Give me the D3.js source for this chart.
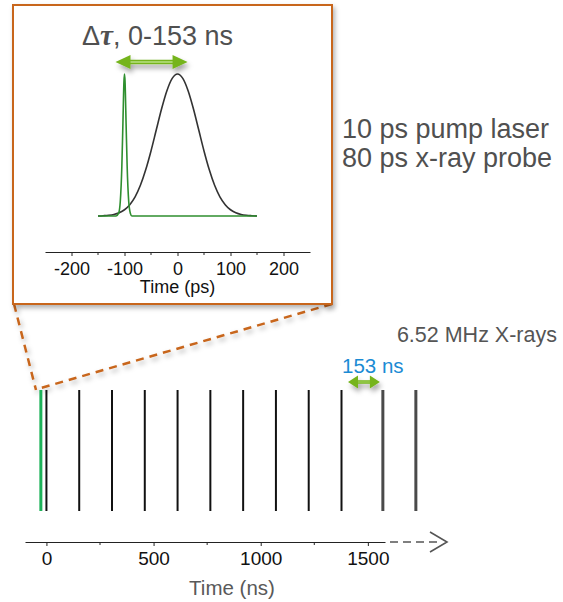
<!DOCTYPE html>
<html>
<head>
<meta charset="utf-8">
<script src="https://cdn.jsdelivr.net/npm/d3@7"></script>
<style>
  body { margin: 0; background: #fff; }
  svg { display: block; font-family: "Liberation Sans", Arial, sans-serif; }
</style>
</head>
<body>
<svg id="chart" width="563" height="602"></svg>
<script>
// ---------- DATA ----------
// Inset: pulse shapes (time in ps, relative intensity)
const probeTime = [-150,-140,-130,-120,-110,-100,-90,-80,-70,-60,-50,-40,-30,-20,-10,0,10,20,30,40,50,60,70,80,90,100,110,120,130,140,150];
const probeValue = [0.0,0.002,0.005,0.011,0.023,0.044,0.08,0.135,0.216,0.325,0.458,0.607,0.755,0.882,0.969,1.0,0.969,0.882,0.755,0.607,0.458,0.325,0.216,0.135,0.08,0.044,0.023,0.011,0.005,0.002,0.0];
const pumpTime = [-150,-116,-111,-108,-105,-103,-101,-100,-99,-97,-95,-92,-89,-86,150];
const pumpValue = [0,0,0.02,0.1,0.35,0.65,0.95,1.0,0.95,0.65,0.35,0.1,0.02,0,0];
const insetTicks = [-200,-100,0,100,200];
const insetMinorTicks = [-150,-50,50,150];
const insetArrowPs = [-117, 19];

// Main: pulse train (time in ns)
const xrayPulses = [0,153,306,459,612,765,918,1071,1224,1377];
const laterPulses = [1570,1724];
const pumpPulse = [-26];
const nsTicks = [0,500,1000,1500];
const nsMinorTicks = [250,750,1250];

const titleText = ["\u0394", "\u03C4", ", 0-153 ns"];
const sideText = ["10 ps pump laser", "80 ps x-ray probe"];
const repText = "6.52 MHz X-rays";
const periodText = "153 ns";

// ---------- DRAW ----------
const svg = d3.select("#chart");
const defs = svg.append("defs");
const sh = defs.append("filter").attr("id","shadow").attr("x","-20%").attr("y","-20%").attr("width","150%").attr("height","160%");
sh.append("feDropShadow").attr("dx",2).attr("dy",3).attr("stdDeviation",2.5).attr("flood-color","#000").attr("flood-opacity",0.3);
const sh2 = defs.append("filter").attr("id","shadow2").attr("x","-30%").attr("y","-60%").attr("width","160%").attr("height","260%");
sh2.append("feDropShadow").attr("dx",2).attr("dy",4).attr("stdDeviation",2.5).attr("flood-color","#000").attr("flood-opacity",0.35);

const orange = "#c8661c";
const arrowGreen = "#74b41c";

// Main scales
const x = d3.scaleLinear().domain([-100, 1580]).range([25, 385]);
const y = d3.scaleLinear().domain([0, 1]).range([511, 390]);

// Dashed zoom lines
svg.append("line").attr("x1",14).attr("y1",304).attr("x2",36).attr("y2",390)
  .attr("stroke",orange).attr("stroke-width",2.5).attr("stroke-dasharray","8,6").attr("filter","url(#shadow)");
svg.append("line").attr("x1",332).attr("y1",304).attr("x2",41).attr("y2",388)
  .attr("stroke",orange).attr("stroke-width",2.5).attr("stroke-dasharray","8,6").attr("filter","url(#shadow)");

// Inset box
svg.append("rect").attr("x",13).attr("y",5).attr("width",319).attr("height",299)
  .attr("fill","#fff").attr("stroke",orange).attr("stroke-width",2).attr("filter","url(#shadow)");

// Inset scales
const xi = d3.scaleLinear().domain([-250, 250]).range([45, 310]);
const yi = d3.scaleLinear().domain([0, 1]).range([216, 74]);

const insetAxis = svg.append("g").attr("transform","translate(0,252)")
  .call(d3.axisBottom(xi).tickValues(insetTicks).tickSizeInner(4).tickSizeOuter(0).tickPadding(6).tickFormat(d3.format("d")));
insetAxis.select(".domain").attr("stroke","#222").attr("stroke-width",1.2);
insetAxis.selectAll(".tick line").attr("stroke","#222");
insetAxis.selectAll(".tick text").attr("font-size",18).attr("fill","#111").attr("font-family","Liberation Sans, Arial, sans-serif").text(d => d < 0 ? "-" + Math.abs(d) : d);
svg.append("g").selectAll("line").data(insetMinorTicks).join("line")
  .attr("x1",d=>xi(d)).attr("x2",d=>xi(d)).attr("y1",252).attr("y2",255).attr("stroke","#222");
svg.append("text").attr("x",xi(0)).attr("y",293).attr("text-anchor","middle")
  .attr("font-size",18).attr("fill","#111").text("Time (ps)");

const lineI = d3.line().x(d=>xi(d[0])).y(d=>yi(d[1])).curve(d3.curveMonotoneX);
svg.append("path").datum(d3.zip(probeTime, probeValue)).attr("d",lineI)
  .attr("fill","none").attr("stroke","#333").attr("stroke-width",1.6);
svg.append("path").datum(d3.zip(pumpTime, pumpValue)).attr("d",lineI)
  .attr("fill","none").attr("stroke","#2f8f2f").attr("stroke-width",1.6);

// Double arrow helper
function dblArrow(x1, x2, yy, headL, headH, shaft) {
  const g = svg.append("g").attr("filter","url(#shadow2)");
  g.append("line").attr("x1",x1+headL-1).attr("x2",x2-headL+1).attr("y1",yy).attr("y2",yy)
    .attr("stroke",arrowGreen).attr("stroke-width",shaft);
  g.append("line").attr("x1",x1+headL-1).attr("x2",x2-headL+1).attr("y1",yy).attr("y2",yy)
    .attr("stroke","#a8d66a").attr("stroke-width",Math.max(1,shaft-2.5));
  g.append("path").attr("d",`M${x1},${yy}L${x1+headL},${yy-headH/2}L${x1+headL},${yy+headH/2}Z`).attr("fill",arrowGreen);
  g.append("path").attr("d",`M${x2},${yy}L${x2-headL},${yy-headH/2}L${x2-headL},${yy+headH/2}Z`).attr("fill",arrowGreen);
}
dblArrow(xi(insetArrowPs[0]), xi(insetArrowPs[1]), 62, 15, 14, 4.5);

// Title
const t = svg.append("text").attr("x",82).attr("y",45).attr("font-size",27).attr("fill","#505050");
t.append("tspan").text(titleText[0]);
t.append("tspan").attr("font-family","Liberation Serif, serif").attr("font-style","italic").attr("font-weight","bold").attr("font-size",29).text(titleText[1]);
t.append("tspan").text(titleText[2]);

// Side text
svg.append("g").selectAll("text").data(sideText).join("text")
  .attr("x",342).attr("y",(d,i)=>138+i*29).attr("font-size",27).attr("fill","#505050").text(d=>d);

svg.append("text").attr("x",557).attr("y",342).attr("text-anchor","end").attr("font-size",21.5).attr("fill","#555").text(repText);
svg.append("text").attr("x",342).attr("y",373).attr("font-size",20.5).attr("fill","#1b8bd4").text(periodText);

// Pulse lines
svg.append("g").selectAll("line").data(xrayPulses).join("line")
  .attr("x1",d=>x(d)).attr("x2",d=>x(d)).attr("y1",y(0)).attr("y2",y(1))
  .attr("stroke","#111").attr("stroke-width",2);
svg.append("g").selectAll("line").data(laterPulses).join("line")
  .attr("x1",d=>x(d)).attr("x2",d=>x(d)).attr("y1",y(0)).attr("y2",y(1))
  .attr("stroke","#4a4a4a").attr("stroke-width",3);
svg.append("g").selectAll("line").data(pumpPulse).join("line")
  .attr("x1",d=>x(d)).attr("x2",d=>x(d)).attr("y1",y(0)).attr("y2",y(1))
  .attr("stroke","#1db35a").attr("stroke-width",3);

// Period arrow
dblArrow(x(xrayPulses[9]) + 6.5, x(laterPulses[0]) - 3, 382, 10, 13, 3.5);

// Main axis
const mainAxis = svg.append("g").attr("transform","translate(0,542)")
  .call(d3.axisBottom(x).tickValues(nsTicks).tickSizeInner(4).tickSizeOuter(0).tickPadding(6).tickFormat(d3.format("d")));
mainAxis.select(".domain").attr("stroke","#222").attr("stroke-width",1.2);
mainAxis.selectAll(".tick line").attr("stroke","#222");
mainAxis.selectAll(".tick text").attr("font-size",19).attr("fill","#111").attr("font-family","Liberation Sans, Arial, sans-serif");
svg.append("g").selectAll("line").data(nsMinorTicks).join("line")
  .attr("x1",d=>x(d)).attr("x2",d=>x(d)).attr("y1",542).attr("y2",545).attr("stroke","#222");

// Dashed continuation + chevron
svg.append("line").attr("x1",390).attr("x2",440).attr("y1",542).attr("y2",542)
  .attr("stroke","#555").attr("stroke-width",1.6).attr("stroke-dasharray","8,5");
svg.append("path").attr("d","M430,532L447,542L430,552").attr("fill","none").attr("stroke","#555").attr("stroke-width",1.6);

svg.append("text").attr("x",232).attr("y",595).attr("text-anchor","middle").attr("font-size",20.5).attr("fill","#595959").text("Time (ns)");
</script>
</body>
</html>
